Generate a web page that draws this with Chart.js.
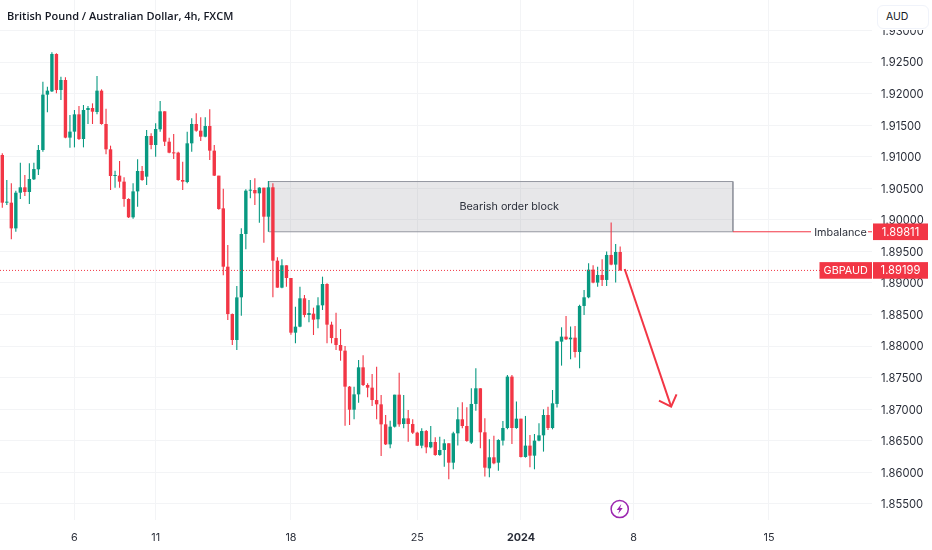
<!DOCTYPE html>
<html><head><meta charset="utf-8">
<script src="https://cdn.jsdelivr.net/npm/chart.js@4"></script>
<style>
html,body{margin:0;padding:0;background:#fff;width:932px;height:550px;overflow:hidden}
#wrap{position:relative;width:932px;height:550px}
canvas{position:absolute;left:0;top:0}
#title{position:absolute;left:7px;top:7px;font:600 11px "Open Sans",sans-serif;color:#131722;white-space:nowrap;line-height:17px}
#cover{position:absolute;left:873px;top:0;width:59px;height:30px;background:#fff}
#ccy{position:absolute;left:877px;top:5px;width:50px;height:22px;border:1px solid #f0f3fa;border-radius:6px;background:#fff;font:10.5px Inter,sans-serif;color:#131722;line-height:22px;text-indent:8px}
</style></head><body>
<div id="wrap"><canvas id="c" width="932" height="550"></canvas>
<div id="title">British Pound / Australian Dollar, 4h, FXCM</div><div id="cover"></div><div id="ccy">AUD</div></div>
<script>
const opens=[1.91027,1.90272,1.90272,1.89865,1.90430,1.90515,1.90441,1.90642,1.90800,1.91106,1.91983,1.92035,1.92627,1.92057,1.92215,1.91302,1.91397,1.91671,1.91280,1.91740,1.91771,1.91708,1.92046,1.91518,1.91117,1.90694,1.90700,1.90605,1.90330,1.90040,1.90451,1.90774,1.90684,1.91328,1.91185,1.91434,1.91719,1.91238,1.91064,1.91064,1.90631,1.90599,1.91212,1.91518,1.91412,1.91317,1.91486,1.91096,1.90700,1.90182,1.89258,1.88508,1.88097,1.88773,1.89776,1.90462,1.90473,1.90420,1.90510,1.90050,1.90515,1.89353,1.88926,1.89280,1.89079,1.88213,1.88308,1.88757,1.88493,1.88514,1.88425,1.88646,1.88984,1.88340,1.88128,1.88018,1.87928,1.87358,1.86993,1.87236,1.87664,1.87384,1.87342,1.87146,1.87078,1.86761,1.86444,1.86724,1.87231,1.86766,1.86856,1.86766,1.86629,1.86423,1.86655,1.86397,1.86481,1.86276,1.86355,1.86461,1.86154,1.86619,1.86841,1.86735,1.86471,1.87084,1.87332,1.86635,1.86064,1.86239,1.86154,1.86503,1.86703,1.87517,1.86703,1.86851,1.86244,1.86424,1.86265,1.86503,1.86587,1.86909,1.86703,1.87084,1.88071,1.88150,1.88108,1.88134,1.87907,1.88636,1.88773,1.89211,1.89006,1.89127,1.89048,1.89444,1.89291,1.89491];
const highs=[1.91053,1.90631,1.90578,1.90462,1.90906,1.90710,1.90895,1.90906,1.91185,1.92189,1.92109,1.92653,1.92637,1.92268,1.92257,1.91661,1.91740,1.91803,1.91819,1.91803,1.91845,1.92278,1.92067,1.91761,1.91175,1.90779,1.90932,1.90673,1.90341,1.90578,1.90958,1.90853,1.91423,1.91370,1.91529,1.91882,1.91719,1.91302,1.91360,1.91080,1.90921,1.91397,1.91608,1.91687,1.91624,1.91624,1.91750,1.91185,1.90700,1.90494,1.89601,1.88518,1.88952,1.89866,1.90483,1.90631,1.90658,1.90515,1.90510,1.90615,1.90578,1.89406,1.89375,1.89280,1.89079,1.88625,1.88942,1.88810,1.88730,1.88609,1.88773,1.89100,1.88994,1.88387,1.88530,1.88271,1.88002,1.87369,1.87358,1.87780,1.87854,1.87410,1.87558,1.87674,1.87226,1.86909,1.86819,1.87231,1.87579,1.87226,1.86988,1.86840,1.86645,1.86698,1.86671,1.86735,1.86556,1.86566,1.86524,1.86461,1.86645,1.87031,1.87110,1.87031,1.87332,1.87649,1.87332,1.86857,1.86524,1.86582,1.86524,1.86814,1.87543,1.87543,1.87121,1.86851,1.86894,1.86593,1.86608,1.86777,1.86999,1.87041,1.87305,1.88076,1.88298,1.88478,1.88309,1.88319,1.88657,1.88889,1.89312,1.89280,1.89259,1.89375,1.89497,1.89956,1.89618,1.89576];
const lows=[1.90193,1.90235,1.89691,1.89813,1.90330,1.90378,1.90251,1.90631,1.90710,1.91080,1.91703,1.92025,1.92004,1.91898,1.91291,1.91143,1.91148,1.91265,1.91148,1.91518,1.91518,1.91671,1.91507,1.91038,1.90473,1.90510,1.90510,1.90209,1.90029,1.90019,1.90209,1.90620,1.90552,1.91117,1.91001,1.91397,1.91170,1.91053,1.90964,1.90620,1.90473,1.90578,1.91080,1.91397,1.91249,1.91307,1.90948,1.90694,1.90161,1.89121,1.88413,1.88017,1.87938,1.88482,1.89533,1.90341,1.90235,1.89955,1.89639,1.89813,1.88773,1.88926,1.88915,1.88942,1.88181,1.88044,1.88297,1.88456,1.88377,1.88176,1.88282,1.88572,1.88044,1.88044,1.87938,1.87769,1.86740,1.86750,1.86840,1.87104,1.87369,1.87189,1.87051,1.86840,1.86259,1.86434,1.86381,1.86713,1.86724,1.86698,1.86486,1.86608,1.86418,1.86381,1.86302,1.86381,1.86265,1.86265,1.86091,1.85890,1.86049,1.86424,1.86698,1.86487,1.86450,1.86978,1.86381,1.85933,1.85922,1.86128,1.86028,1.86424,1.86682,1.86450,1.86693,1.86234,1.86234,1.86080,1.86049,1.86492,1.86329,1.86672,1.86682,1.87026,1.87691,1.88097,1.87791,1.87818,1.87649,1.88493,1.88757,1.88995,1.88942,1.88953,1.88953,1.89280,1.89006,1.89196];
const closes=[1.90272,1.90283,1.89865,1.90430,1.90515,1.90441,1.90647,1.90805,1.91106,1.91983,1.92046,1.92627,1.92057,1.92215,1.91302,1.91397,1.91671,1.91280,1.91740,1.91771,1.91713,1.92046,1.91518,1.91117,1.90694,1.90710,1.90605,1.90330,1.90040,1.90451,1.90774,1.90631,1.91328,1.91185,1.91439,1.91719,1.91238,1.91064,1.91053,1.90631,1.90605,1.91212,1.91518,1.91412,1.91317,1.91486,1.91096,1.90700,1.90172,1.89258,1.88508,1.88097,1.88772,1.89776,1.90462,1.90478,1.90420,1.90510,1.90050,1.90515,1.89353,1.88926,1.89280,1.89079,1.88213,1.88308,1.88757,1.88493,1.88524,1.88419,1.88646,1.88984,1.88340,1.88128,1.88018,1.87928,1.87358,1.86993,1.87236,1.87664,1.87384,1.87342,1.87146,1.87078,1.86761,1.86444,1.86724,1.87231,1.86761,1.86856,1.86766,1.86629,1.86423,1.86655,1.86397,1.86481,1.86275,1.86355,1.86461,1.86154,1.86619,1.86841,1.86735,1.86498,1.87084,1.87332,1.86635,1.86075,1.86239,1.86144,1.86513,1.86703,1.87517,1.86703,1.86851,1.86244,1.86424,1.86265,1.86503,1.86587,1.86909,1.86703,1.87094,1.88076,1.88150,1.88108,1.88134,1.87907,1.88636,1.88773,1.89211,1.89006,1.89127,1.89048,1.89444,1.89291,1.89491,1.89199];
const tickPositions=[16,34,64,92,115,140,170];
const tickLabels=['6','11','18','25','2024','8','15'];
const lastPrice=1.89199, imbalancePrice=1.89811, blockTop=1.90607;
const blockX=[59.1,162], blockLabelX=112.4;
const arrowX=[138,148.3], arrowY=[1.89222,1.87041];
const arrowHeadX=[145.6,148.3,149.5], arrowHeadY=[1.87136,1.87041,1.87237];
const xMin=-0.51,xMax=192.84,yMin=1.85246,yMax=1.93482;
const iconX=136.9, iconY=1.85420;

const UP='#089981',DOWN='#f23645',GRID='#f3f4f6',INK='#2a2e39';
const idx=closes.map((_,i)=>i);
const cols=closes.map((c,i)=>c>=opens[i]?UP:DOWN);
const fmt=v=>v.toFixed(5);

const overlay={id:'overlay',afterDraw(ch){
 const {ctx}=ch,xs=ch.scales.x,ys=ch.scales.y;
 const badge=(x0,x1,v,txt)=>{const y=ys.getPixelForValue(v);ctx.fillStyle=DOWN;ctx.fillRect(x0,y-8.3,x1-x0,16.6);ctx.fillStyle='#fff';ctx.textAlign='center';ctx.textBaseline='middle';ctx.fillText(txt,(x0+x1)/2,y+.5)};
 ctx.save();
 ctx.font='10.8px Inter,sans-serif';
 ctx.textAlign='center';ctx.textBaseline='middle';
 ctx.fillStyle='#2a2e39';
 ctx.fillText('Bearish order block',xs.getPixelForValue(blockLabelX),ys.getPixelForValue((blockTop+imbalancePrice)/2));
 const iy=ys.getPixelForValue(imbalancePrice);
 ctx.fillStyle='#fff';ctx.fillRect(811,iy-8,57,16);
 ctx.fillStyle='#2a2e39';ctx.fillText('Imbalance',840.5,iy+.5);
 ctx.font='11.2px Inter,sans-serif';
 badge(873,928,imbalancePrice,fmt(imbalancePrice));
 ctx.font='10.8px Inter,sans-serif';
 badge(819.5,872,lastPrice,'GBPAUD');
 ctx.font='11.2px Inter,sans-serif';
 badge(873,928,lastPrice,fmt(lastPrice));
 const cx=xs.getPixelForValue(iconX),cy=ys.getPixelForValue(iconY);
 ctx.beginPath();ctx.arc(cx,cy,8.6,0,Math.PI*2);ctx.fillStyle='#fff';ctx.fill();ctx.lineWidth=1.5;ctx.strokeStyle='#9c27b0';ctx.stroke();
 ctx.beginPath();ctx.moveTo(cx+1.6,cy-5);ctx.lineTo(cx-3,cy+1);ctx.lineTo(cx-.4,cy+1);ctx.lineTo(cx-1.6,cy+5);ctx.lineTo(cx+3,cy-1);ctx.lineTo(cx+.4,cy-1);ctx.closePath();ctx.fillStyle='#9c27b0';ctx.fill();
 ctx.restore();
}};

new Chart(document.getElementById('c'),{
 type:'bar',
 data:{datasets:[
  {type:'bar',order:5,grouped:false,barThickness:1.1,inflateAmount:0,borderWidth:0,backgroundColor:cols,data:idx.map(i=>({x:i,y:[lows[i],highs[i]]}))},
  {type:'bar',order:4,grouped:false,barThickness:3.4,inflateAmount:0,borderWidth:0,minBarLength:1,backgroundColor:cols,data:idx.map(i=>({x:i,y:[Math.min(opens[i],closes[i]),Math.max(opens[i],closes[i])]}))},
  {type:'line',order:10,pointRadius:0,borderWidth:0,backgroundColor:'rgba(120,123,134,0.18)',fill:{value:imbalancePrice},data:[{x:blockX[0],y:blockTop},{x:blockX[1],y:blockTop}]},
  {type:'line',order:9,pointRadius:0,borderWidth:1,borderColor:'#9598a1',fill:false,data:[{x:blockX[0],y:imbalancePrice},{x:blockX[0],y:blockTop},{x:blockX[1],y:blockTop},{x:blockX[1],y:imbalancePrice},{x:blockX[0],y:imbalancePrice}]},
  {type:'line',order:2,pointRadius:0,borderWidth:1,borderColor:DOWN,borderDash:[1,2],fill:false,data:[{x:xMin,y:lastPrice},{x:xMax,y:lastPrice}]},
  {type:'line',order:2,pointRadius:0,borderWidth:1,borderColor:DOWN,fill:false,data:[{x:blockX[1],y:imbalancePrice},{x:xMax,y:imbalancePrice}]},
  {type:'line',order:1,pointRadius:0,borderWidth:2,borderColor:DOWN,fill:false,data:arrowX.map((x,i)=>({x,y:arrowY[i]}))},
  {type:'line',order:1,pointRadius:0,borderWidth:2,borderColor:DOWN,fill:false,data:arrowHeadX.map((x,i)=>({x,y:arrowHeadY[i]}))}
 ]},
 plugins:[overlay],
 options:{
  responsive:false,animation:false,events:[],
  layout:{padding:0},
  plugins:{legend:{display:false},tooltip:{enabled:false},title:{display:false}},
  scales:{
   x:{type:'linear',min:xMin,max:xMax,offset:false,
    afterBuildTicks(s){s.ticks=tickPositions.map(v=>({value:v}))},
    afterFit(s){s.height=30;s.paddingLeft=0;s.paddingRight=0},
    border:{display:false},
    grid:{color:GRID,drawTicks:false,offset:false},
    ticks:{autoSkip:false,maxRotation:0,padding:11,color:INK,
     font:c=>({family:'Inter,sans-serif',size:10.8,weight:c.tick&&c.tick.label==='2024'?'bold':'normal'}),
     callback:v=>tickLabels[tickPositions.indexOf(v)]}},
   y:{type:'linear',position:'right',min:yMin,max:yMax,
    afterFit(s){s.width=60;s.paddingTop=0;s.paddingBottom=0},
    border:{display:false},
    grid:{color:GRID,drawTicks:false},
    ticks:{stepSize:0.005,includeBounds:false,padding:9,labelOffset:1,color:INK,font:{family:'Inter,sans-serif',size:11.2},callback:v=>fmt(v)}}
  }
 }
});
</script></body></html>
